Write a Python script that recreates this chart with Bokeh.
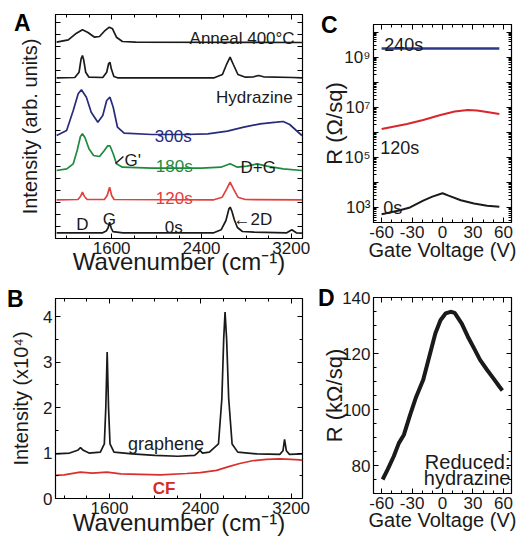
import math
from bokeh.plotting import figure
from bokeh.models import Range1d, LinearAxis, LogAxis, FixedTicker, Label, CustomJSTickFormatter
from bokeh.layouts import row, column
from bokeh.embed import file_html
from bokeh.resources import INLINE

FONT = "Liberation Sans"
INK = "#1a1a1a"

# ---------------- Panel A: Raman spectra, stacked (arb. units) ----------------
A_xticks = [1600, 2400, 3200]
A_xminor = [1200, 1400, 1800, 2000, 2200, 2600, 2800, 3000]
A_yticks = [12 * k for k in range(1, 19)]

a0_x = [1110, 1520, 1552, 1568, 1582, 1596, 1612, 1700, 2510, 2575, 2618, 2645, 2656, 2672, 2692, 2720, 2765, 2870, 3160, 3205, 3245, 3295]
a0_y = [5.7, 5.7, 7.5, 10.5, 16.3, 10.5, 6.8, 5.7, 5.7, 8.7, 18.0, 29.7, 31.3, 27.0, 19.0, 11.0, 7.0, 6.3, 5.7, 8.7, 5.7, 5.3]

a120_x = [1110, 1300, 1322, 1340, 1358, 1382, 1535, 1560, 1582, 1600, 1622, 2510, 2585, 2625, 2655, 2685, 2725, 2790, 3295]
a120_y = [38.7, 39.0, 42.0, 46.3, 42.0, 39.0, 39.0, 43.0, 51.3, 43.0, 39.0, 38.7, 41.3, 49.7, 56.3, 49.7, 41.3, 39.0, 38.7]

a180_x = [1110, 1200, 1258, 1293, 1322, 1340, 1363, 1398, 1439, 1492, 1535, 1565, 1585, 1614, 1643, 1696, 1960, 2400, 2573, 2655, 2720, 2806, 2894, 2982, 3128, 3295]
a180_y = [68.0, 69.7, 74.7, 88.0, 102.0, 104.7, 100.7, 89.7, 83.0, 82.0, 88.0, 92.7, 92.7, 84.7, 74.7, 71.3, 70.3, 70.3, 71.3, 74.7, 71.3, 72.3, 74.7, 72.3, 69.7, 68.0]

a300_x = [1110, 1199, 1258, 1302, 1331, 1375, 1418, 1477, 1521, 1556, 1585, 1614, 1652, 1711, 1960, 2251, 2456, 2631, 2777, 2923, 3069, 3128, 3186, 3245, 3295]
a300_y = [103.0, 108.0, 128.0, 144.7, 148.7, 141.3, 126.3, 116.3, 123.0, 138.0, 141.3, 131.3, 111.3, 105.3, 104.0, 104.0, 104.7, 107.3, 111.3, 114.7, 116.3, 117.0, 114.0, 108.0, 103.0]

ahyd_x = [1110, 1272, 1310, 1328, 1340, 1351, 1369, 1398, 1521, 1556, 1573, 1585, 1597, 1620, 1652, 2514, 2587, 2626, 2655, 2684, 2725, 2792, 2865, 2909, 2953, 3215, 3295]
ahyd_y = [160.7, 161.0, 166.3, 179.7, 183.0, 178.7, 166.3, 161.3, 161.0, 166.3, 174.7, 176.3, 169.7, 162.0, 160.7, 160.7, 164.0, 174.7, 181.3, 174.0, 164.0, 161.3, 161.7, 163.0, 161.7, 161.0, 160.7]

aann_x = [1110, 1214, 1287, 1340, 1389, 1448, 1492, 1535, 1579, 1608, 1643, 1696, 1813, 3295]
aann_y = [196.3, 198.7, 205.3, 208.7, 206.0, 201.3, 202.0, 207.3, 211.3, 209.7, 201.3, 197.0, 196.3, 196.0]

gprime_x = [1635, 1705]
gprime_y = [75, 82]

# ---------------- Panel B: graphene vs CF ----------------
B_yticks = [0, 1, 2, 3, 4]
B_yminor = [0.5, 1.5, 2.5, 3.5]

bg_x = [1125, 1250, 1320, 1345, 1370, 1420, 1520, 1555, 1568, 1580, 1592, 1605, 1640, 1800, 2000, 2200, 2350, 2375, 2397, 2420, 2480, 2560, 2590, 2606, 2618, 2632, 2650, 2680, 2730, 2900, 3100, 3128, 3142, 3158, 3185, 3300]
bg_y = [0.98, 1.0, 1.06, 1.12, 1.06, 1.0, 1.02, 1.2, 2.0, 3.22, 2.0, 1.2, 1.02, 0.98, 0.95, 0.93, 0.95, 1.0, 1.06, 1.0, 1.02, 1.2, 2.2, 3.5, 4.1, 3.5, 2.2, 1.2, 1.02, 0.98, 0.97, 1.05, 1.3, 1.05, 0.97, 0.98]

bcf_x = [1125, 1200, 1344, 1450, 1578, 1700, 1870, 2050, 2280, 2400, 2543, 2650, 2747, 2860, 2982, 3100, 3200, 3274, 3300]
bcf_y = [0.51, 0.52, 0.58, 0.56, 0.58, 0.54, 0.53, 0.52, 0.55, 0.57, 0.62, 0.70, 0.77, 0.83, 0.86, 0.87, 0.86, 0.85, 0.84]

# ---------------- Panel C: R vs gate voltage (log) ----------------
V_ticks = [-60, -30, 0, 30, 60]
V_minor = [-50, -40, -20, -10, 10, 20, 40, 50]
C_yticks = [10 ** k for k in range(3, 11)]
C_yminor = [m * 10 ** k for k in range(2, 11) for m in range(2, 10)]

c0_v = [-60, -44, -32, -19, -10, 0, 6, 18, 31, 44, 56]
c0_r = [540, 740, 1000, 1860, 2700, 3700, 2950, 1950, 1450, 1170, 1070]

c120_v = [-60, -35, -19, -2, 12, 25, 34, 47, 56]
c120_r = [1.35e6, 2.14e6, 3.09e6, 4.9e6, 6.76e6, 7.76e6, 7.41e6, 6.17e6, 5.37e6]

c240_v = [-60, 56]
c240_r = [2.2e9, 2.2e9]

# ---------------- Panel D: reduced (hydrazine) ----------------
D_yticks = [80, 100, 120, 140]
D_yminor = [75, 85, 90, 95, 105, 110, 115, 125, 130, 135]

d_v = [-59, -54, -48, -43, -38, -32, -26, -19, -13, -7, -2, 3, 8, 12, 19, 25, 31, 37, 44, 50, 56, 59]
d_r = [75.0, 78.6, 83.3, 88.0, 91.0, 98.0, 104.5, 110.6, 118.9, 127.2, 131.9, 134.3, 134.9, 134.5, 130.7, 126.0, 121.9, 117.7, 114.1, 111.2, 108.2, 106.8]

BLANK = CustomJSTickFormatter(code="return ''")
INTF = CustomJSTickFormatter(code="return tick.toFixed(0)")
LOGF = CustomJSTickFormatter(code="""
const e = Math.round(Math.log10(tick));
const sup = {3: '\u00b3', 5: '\u2075', 7: '\u2077', 9: '\u2079'};
return (e in sup) ? '10' + sup[e] : '';
""")


def style_axis(ax, ticks, minor, fmt, fs="17px", standoff=3):
    ax.ticker = FixedTicker(ticks=ticks, minor_ticks=minor)
    ax.formatter = fmt
    ax.major_tick_in = 5
    ax.major_tick_out = 0
    ax.minor_tick_in = 3
    ax.minor_tick_out = 0
    ax.axis_line_color = "black"
    ax.major_tick_line_color = "black"
    ax.minor_tick_line_color = "black"
    ax.major_label_text_font = FONT
    ax.major_label_text_font_size = fs
    ax.major_label_text_color = INK
    ax.major_label_standoff = standoff if fmt is not BLANK else 0
    ax.axis_label_text_font = FONT
    ax.axis_label_text_font_style = "normal"
    ax.axis_label_text_color = INK


def set_label(ax, text, size, standoff):
    ax.axis_label = text
    ax.axis_label_text_font_size = f"{size}px"
    ax.axis_label_standoff = standoff


def letter_axis(p, letter, tick, standoff, log=False):
    ax = LogAxis() if log else LinearAxis()
    ax.ticker = FixedTicker(ticks=[tick], minor_ticks=[])
    ax.formatter = CustomJSTickFormatter(code=f"return '{letter}'")
    ax.axis_line_color = None
    ax.major_tick_line_color = None
    ax.minor_tick_line_color = None
    ax.major_tick_in = 0
    ax.major_tick_out = 0
    ax.minor_tick_in = 0
    ax.minor_tick_out = 0
    ax.major_label_text_font = FONT
    ax.major_label_text_font_style = "bold"
    ax.major_label_text_font_size = "23px"
    ax.major_label_text_color = "black"
    ax.major_label_standoff = standoff
    ax.axis_label_text_font = FONT
    ax.axis_label_text_font_style = "normal"
    ax.axis_label_text_color = INK
    p.add_layout(ax, "left")
    return ax


def make_fig(w, h, xr, yr, borders, ylog=False):
    l, r, t, b = borders
    p = figure(width=w, height=h, x_range=xr, y_range=yr, output_backend="svg",
               toolbar_location=None, y_axis_type="log" if ylog else "linear",
               min_border_left=l, min_border_right=r, min_border_top=t, min_border_bottom=b)
    p.xgrid.visible = False
    p.ygrid.visible = False
    p.outline_line_color = "black"
    p.outline_line_width = 1.2
    p.background_fill_color = "white"
    p.border_fill_color = "white"
    return p


def mirrors(p, xt, xm, yt, ym, ylog=False):
    top = LinearAxis()
    style_axis(top, xt, xm, BLANK)
    p.add_layout(top, "above")
    right = LogAxis() if ylog else LinearAxis()
    style_axis(right, yt, ym, BLANK)
    p.add_layout(right, "right")


def lab(p, text, x, y, size, align="left", color=INK, bold=False):
    p.add_layout(Label(x=x, y=y, text=text, text_font=FONT,
                       text_font_size=f"{size}px", text_color=color,
                       text_align=align, text_baseline="alphabetic",
                       text_font_style="bold" if bold else "normal"))


RED = "#e2403d"
GREEN = "#1d8a3d"
NAVY = "#272b7c"

# ---- Panel A ----
pA = make_fig(318, 281, Range1d(1100, 3300), Range1d(0, 224), (52, 16, 14, 43))
style_axis(pA.xaxis[0], A_xticks, A_xminor, INTF)
set_label(pA.xaxis[0], "Wavenumber (cm\u207b\u00b9)", 24, -9)
ay = pA.yaxis[0]
style_axis(ay, A_yticks, [], CustomJSTickFormatter(code="return tick == 216 ? 'A' : ''"), fs="23px", standoff=25)
ay.major_label_text_font_style = "bold"
ay.major_label_text_color = "black"
set_label(ay, "Intensity (arb. units)", 20, -30)
mirrors(pA, A_xticks, A_xminor, A_yticks, [])
for xs, ys, c in [(a0_x, a0_y, INK), (a120_x, a120_y, RED), (a180_x, a180_y, GREEN),
                  (a300_x, a300_y, NAVY), (ahyd_x, ahyd_y, INK), (aann_x, aann_y, INK)]:
    pA.line(xs, ys, line_color=c, line_width=1.7)
pA.line(gprime_x, gprime_y, line_color=INK, line_width=1.5)
lab(pA, "Anneal 400°C", 3230, 200, 17, align="right")
lab(pA, "Hydrazine", 3212, 141, 17, align="right")
lab(pA, "300s", 1985, 102, 17, color=NAVY)
lab(pA, "180s", 1994, 72, 17, color=GREEN)
lab(pA, "120s", 1994, 40, 17, color=RED)
lab(pA, "0s", 2073, 11, 17)
lab(pA, "D", 1284, 14, 17)
lab(pA, "G", 1521, 19, 17)
lab(pA, "\u21902D", 2686, 19, 17)
lab(pA, "G'", 1714, 78, 17)
lab(pA, "D+G", 2748, 71, 17)

# ---- Panel B ----
pB = make_fig(318, 261, Range1d(1125, 3300), Range1d(0, 4.4), (55, 16, 17, 44))
style_axis(pB.xaxis[0], A_xticks, A_xminor, INTF)
set_label(pB.xaxis[0], "Wavenumber (cm\u207b\u00b9)", 24, -8)
style_axis(pB.yaxis[0], B_yticks, B_yminor, INTF)
bl = letter_axis(pB, "B", 4.39, 17)
set_label(bl, "Intensity (x10\u2074)", 20, -28)
mirrors(pB, A_xticks, A_xminor, B_yticks, B_yminor)
pB.line(bg_x, bg_y, line_color=INK, line_width=1.7)
pB.line(bcf_x, bcf_y, line_color="#d8302c", line_width=1.7)
lab(pB, "graphene", 2098, 1.21, 18, align="center")
lab(pB, "CF", 2081, 0.22, 17, align="center", color="#d42c2c", bold=True)

# ---- Panel C ----
pC = make_fig(200, 278, Range1d(-68, 68), Range1d(10 ** 2.4, 10 ** 10.3), (50, 7, 24, 56), ylog=True)
style_axis(pC.xaxis[0], V_ticks, V_minor, INTF)
set_label(pC.xaxis[0], "Gate Voltage (V)", 20, -2)
style_axis(pC.yaxis[0], C_yticks, C_yminor, LOGF)
cl = letter_axis(pC, "C", 10 ** 10.29, 4, log=True)
set_label(cl, "R (\u03a9/sq)", 22, -29)
mirrors(pC, V_ticks, V_minor, C_yticks, C_yminor, ylog=True)
pC.line(c0_v, c0_r, line_color=INK, line_width=2)
pC.line(c120_v, c120_r, line_color="#d8262c", line_width=2)
pC.line(c240_v, c240_r, line_color="#2b3a8c", line_width=2.5)
lab(pC, "240s", -57.5, 2.9e9, 18)
lab(pC, "120s", -61.3, 2.4e5, 18)
lab(pC, "0s", -58.5, 9.2e2, 18)

# ---- Panel D ----
pD = make_fig(200, 264, Range1d(-68, 68), Range1d(70, 140), (50, 7, 19, 49))
style_axis(pD.xaxis[0], V_ticks, V_minor, INTF)
set_label(pD.xaxis[0], "Gate Voltage (V)", 20, -3)
style_axis(pD.yaxis[0], D_yticks, D_yminor, INTF)
dl = letter_axis(pD, "D", 139.9, 5)
set_label(dl, "R (k\u03a9/sq)", 22, -32)
mirrors(pD, V_ticks, V_minor, D_yticks, D_yminor)
pD.line(d_v, d_r, line_color=INK, line_width=4)
lab(pD, "Reduced:", 67, 81.4, 20, align="right")
lab(pD, "hydrazine", 67, 75.4, 20, align="right")

layout = row(column(pA, pB), column(pC, pD))
open("out.html", "w").write(file_html(layout, INLINE))
